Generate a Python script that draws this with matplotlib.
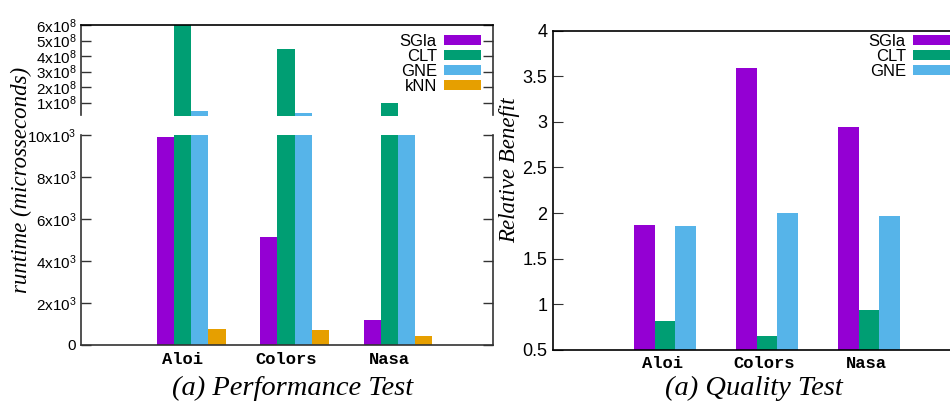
import matplotlib
matplotlib.use("Agg")
import matplotlib.pyplot as plt
import numpy as np

plt.rcParams['font.family'] = ['Liberation Sans', 'DejaVu Sans']
plt.rcParams['mathtext.fontset'] = 'custom'
plt.rcParams['mathtext.rm'] = 'Liberation Sans'
plt.rcParams['mathtext.it'] = 'Liberation Sans:italic'

datasets = ["Aloi", "Colors", "Nasa"]

# runtime (microseconds)
perf_methods = ["SGla", "CLT", "GNE", "kNN"]
perf_sgla = [9890, 5120, 1180]
perf_clt = [6.3e8, 4.43e8, 1.0e8]
perf_gne = [4.3e7, 3.5e7, 1.0e7]
perf_knn = [750, 700, 410]

# relative benefit
qual_methods = ["SGla", "CLT", "GNE"]
qual_sgla = [1.87, 3.59, 2.94]
qual_clt = [0.82, 0.65, 0.94]
qual_gne = [1.86, 2.00, 1.97]

colors = ["#9400d3", "#009e73", "#56b4e9", "#e69f00"]

top_ticks = [1e8, 2e8, 3e8, 4e8, 5e8, 6e8]
bottom_ticks = [0, 2e3, 4e3, 6e3, 8e3, 10e3]
qual_ticks = [0.5, 1, 1.5, 2, 2.5, 3, 3.5, 4]

W, H = 950, 401
fig = plt.figure(figsize=(W / 100, H / 100), dpi=100)


def px_axes(left, top, right, bottom):
    return fig.add_axes([left / W, 1 - bottom / H, (right - left) / W, (bottom - top) / H])


def sci(v, e):
    return r'$\mathrm{%dx10^{%d}}$' % (round(v / 10 ** e), e)


x = np.arange(len(datasets))
mono = dict(family='Liberation Mono', weight='bold', size=12.3)
leg_kw = dict(frameon=False, markerfirst=False, fontsize=12, handlelength=2.2,
              handleheight=0.5, labelspacing=0.0, handletextpad=0.45,
              borderaxespad=0, borderpad=0)

# ---- performance: broken y axis ----
ax_top = px_axes(80.5, 25, 493, 115.5)
ax_bot = px_axes(80.5, 135, 493, 345)
w = 1 / 6
perf = [perf_sgla, perf_clt, perf_gne, perf_knn]
for ax in (ax_top, ax_bot):
    for i, (name, vals) in enumerate(zip(perf_methods, perf)):
        ax.bar(x + (i - 1.5) * w, vals, w, color=colors[i], label=name)
    ax.set_xlim(-1.068, 2.918)
    ax.tick_params(axis='y', direction='in', length=7, right=True, labelsize=11,
                   width=1, color='#333333', pad=3)
    for s in ('left', 'right', 'top', 'bottom'):
        ax.spines[s].set_linewidth(1.2)
        ax.spines[s].set_color('#333333')

ax_top.set_ylim(1.7e7, 6e8)
ax_top.set_yticks(top_ticks)
ax_top.set_yticklabels([sci(v, 8) for v in top_ticks])
ax_top.spines['bottom'].set_visible(False)
ax_top.set_xticks([])
ax_top.spines['top'].set_color('black')

ax_bot.set_ylim(0, 10e3)
ax_bot.set_yticks(bottom_ticks)
ax_bot.set_yticklabels(['0'] + [sci(v, 3) for v in bottom_ticks[1:]])
ax_bot.spines['top'].set_visible(False)
ax_bot.set_xticks(x - 0.082)
ax_bot.set_xticklabels(datasets, fontdict=mono)
ax_bot.tick_params(axis='x', length=0, pad=5)

ax_top.legend(loc='upper right', bbox_to_anchor=(0.971, 0.9), **leg_kw)

fig.text(21 / W, 1 - 180 / H, "runtime (microsseconds)", rotation=90, ha='center',
         va='center', family='Liberation Serif', style='italic', size=16.5)
fig.text(292.5 / W, 1 - 388 / H, "(a) Performance Test", ha='center', va='center',
         family='Liberation Serif', style='italic', size=20.5)

# ---- quality ----
ax_q = px_axes(553, 30.5, 961, 350)
wq = 1 / 5
qual = [qual_sgla, qual_clt, qual_gne]
for i, (name, vals) in enumerate(zip(qual_methods, qual)):
    ax_q.bar(x + (i - 1) * wq, vals, wq, color=colors[i], label=name)
ax_q.set_xlim(-1.098, 2.902)
ax_q.set_ylim(0.5, 4)
ax_q.set_yticks(qual_ticks)
ax_q.set_yticklabels(['0.5', '1', '1.5', '2', '2.5', '3', '3.5', '4'])
ax_q.tick_params(axis='y', direction='in', length=7, labelsize=13, color='#333333', pad=4)
ax_q.set_xticks(x - 0.025)
ax_q.set_xticklabels(datasets, fontdict=mono)
ax_q.tick_params(axis='x', length=0, pad=4)
for s in ('left', 'right', 'top', 'bottom'):
    ax_q.spines[s].set_linewidth(1.2)
ax_q.legend(loc='upper right', bbox_to_anchor=((950 - 553) / (961 - 553), 0.99), **leg_kw)

fig.text(510 / W, 1 - 170 / H, "Relative Benefit", rotation=90, ha='center',
         va='center', family='Liberation Serif', style='italic', size=16.5)
fig.text(753.5 / W, 1 - 388 / H, "(a) Quality Test", ha='center', va='center',
         family='Liberation Serif', style='italic', size=20.5)

fig.savefig("out.png", dpi=100)
